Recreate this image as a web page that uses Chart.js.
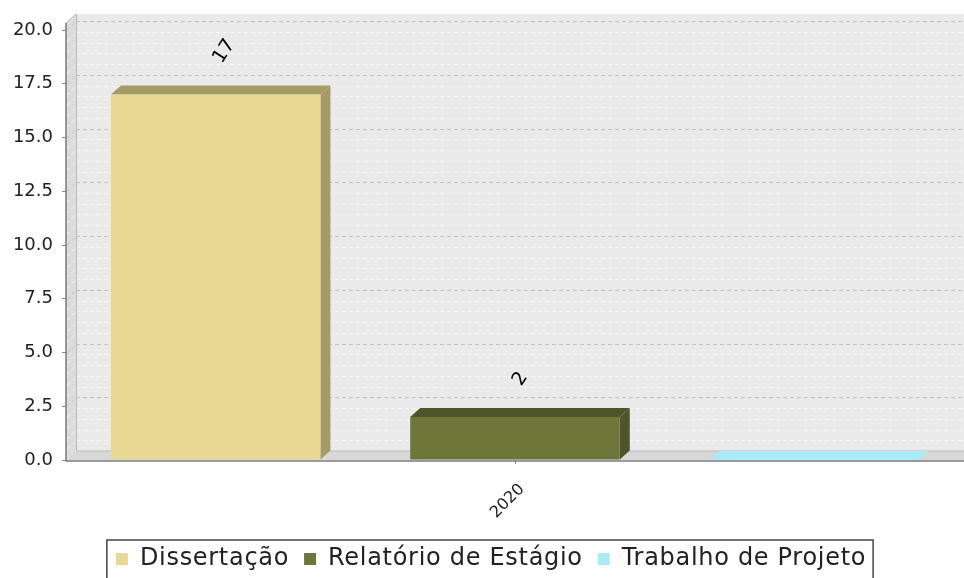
<!DOCTYPE html>
<html>
<head>
<meta charset="utf-8">
<script src="https://cdn.jsdelivr.net/npm/chart.js@4.4.1/dist/chart.umd.min.js"></script>
<style>
html,body{margin:0;padding:0;background:#fff}
#wrap{width:964px;height:578px;position:relative}
</style>
</head>
<body>
<div id="wrap"><canvas id="chart"></canvas></div>
<script>
// data
const categories = ['2020'];
const seriesNames = ['Dissertação', 'Relatório de Estágio', 'Trabalho de Projeto'];
const dissertacao = [17];
const relatorio = [2];
const trabalho = [0];
const yTicks = [0, 2.5, 5, 7.5, 10, 12.5, 15, 17.5, 20];

const seriesValues = [dissertacao, relatorio, trabalho];
const frontColors = ['#E8D893', '#6E763A', '#AAEBFA'];
const darkColors = ['#A69A67', '#4F552A', '#AAEBFA'];
const DX = 10, DY = 9; // 3d depth
const LEGEND_SPACING = '0.7px';

function poly(ctx, pts){
  ctx.beginPath();
  ctx.moveTo(pts[0][0], pts[0][1]);
  for (let i=1;i<pts.length;i++) ctx.lineTo(pts[i][0], pts[i][1]);
  ctx.closePath();
}

const threeD = {
  id: 'threeD',
  // legend text is a bit wider in the original, spread letters only while legend is measured / drawn
  beforeLayout(chart){ chart.ctx.letterSpacing = LEGEND_SPACING; },
  afterLayout(chart){
    chart.ctx.letterSpacing = '0px';
    // original legend sits a little right of centre
    if (chart.legend){ chart.legend.left += 9; chart.legend.right += 9; }
  },
  beforeDraw(chart){ chart.ctx.letterSpacing = LEGEND_SPACING; },
  beforeDatasetsDraw(chart){
    const {ctx, chartArea:a, scales:{y}} = chart;
    ctx.letterSpacing = '0px';
    const top = a.top - 7, bot = a.bottom;
    ctx.save();
    // walls + floor
    ctx.fillStyle = '#DCDCDC';
    poly(ctx, [[a.left,bot],[a.left,top],[a.left+DX,top-DY],[a.left+DX,bot-DY]]); ctx.fill();
    ctx.fillStyle = '#EAEAEA';
    ctx.fillRect(a.left+DX, top-DY, a.right-a.left, bot-top);
    ctx.fillStyle = '#D8D8D8';
    poly(ctx, [[a.left,bot],[a.left+DX,bot-DY],[a.right+DX,bot-DY],[a.right,bot]]); ctx.fill();

    // grid on back wall, minor every 0.5
    const step = yTicks[1]-yTicks[0];
    ctx.lineWidth = 1;
    ctx.setLineDash([4,3]);
    for (let k=0; k<=yTicks.length*5; k++){
      const v = k*step/5;
      if (v > yTicks[yTicks.length-1]) break;
      if (v === 0) continue;
      const yy = Math.round(y.getPixelForValue(v) - DY) + 0.5;
      ctx.strokeStyle = (k%5===0) ? '#C2C2C2' : '#F6F6F6';
      ctx.beginPath(); ctx.moveTo(a.left+DX, yy); ctx.lineTo(a.right+DX, yy); ctx.stroke();
      ctx.beginPath(); ctx.moveTo(a.left+1, yy+DY); ctx.lineTo(a.left+DX, yy); ctx.stroke();
    }
    ctx.setLineDash([]);
    ctx.strokeStyle = '#BBBBBB';
    ctx.beginPath();
    ctx.moveTo(a.left+DX+0.5, top-DY); ctx.lineTo(a.left+DX+0.5, bot-DY);
    ctx.lineTo(a.right+DX, bot-DY);
    ctx.moveTo(a.left, top); ctx.lineTo(a.left+DX, top-DY);
    ctx.stroke();

    // front axis lines
    ctx.strokeStyle = '#7A7A7A';
    ctx.lineWidth = 1.5;
    ctx.beginPath();
    ctx.moveTo(a.left, top); ctx.lineTo(a.left, bot+1);
    ctx.lineTo(a.right, bot+1);
    ctx.stroke();

    // bar tops and sides
    chart.data.datasets.forEach((ds, i) => {
      chart.getDatasetMeta(i).data.forEach((bar, j) => {
        const p = bar.getProps(['x','y','base','width'], true);
        const x0 = p.x - p.width/2, x1 = p.x + p.width/2;
        const val = seriesValues[i][j];
        ctx.fillStyle = darkColors[i];
        poly(ctx, [[x1,p.y],[x1+DX,p.y-DY],[x1+DX,p.base-DY],[x1,p.base]]); ctx.fill();
        ctx.fillStyle = val > 0 ? darkColors[i] : frontColors[i];
        poly(ctx, [[x0,p.y],[x0+DX,p.y-DY],[x1+DX,p.y-DY],[x1,p.y]]); ctx.fill();
      });
    });
    ctx.restore();
  },
  afterDatasetsDraw(chart){
    const {ctx} = chart;
    ctx.save();
    ctx.font = '19px "DejaVu Sans"';
    ctx.fillStyle = '#000';
    ctx.textAlign = 'left';
    ctx.textBaseline = 'middle';
    const ang = -57*Math.PI/180;
    chart.data.datasets.forEach((ds, i) => {
      chart.getDatasetMeta(i).data.forEach((bar, j) => {
        const val = seriesValues[i][j];
        if (!(val > 0)) return;
        const p = bar.getProps(['x','y'], true);
        ctx.save();
        ctx.translate(p.x + DX/2 - 3, p.y - DY - 24);
        ctx.rotate(ang);
        ctx.fillText(String(val), 0, 0);
        ctx.restore();
      });
    });
    ctx.restore();
  },
  afterDraw(chart){
    const lg = chart.legend;
    if (!lg || !lg.legendHitBoxes.length) return;
    const hb = lg.legendHitBoxes;
    const l = hb[0].left - 9, r = hb[hb.length-1].left + hb[hb.length-1].width + 7;
    const ctx = chart.ctx;
    ctx.save();
    ctx.strokeStyle = '#444';
    ctx.lineWidth = 1.5;
    ctx.strokeRect(l, lg.top + 8, r - l, 100);
    ctx.restore();
  }
};

new Chart(document.getElementById('chart'), {
  type: 'bar',
  data: {
    labels: categories,
    datasets: seriesNames.map((name, i) => ({
      label: name,
      data: seriesValues[i],
      backgroundColor: frontColors[i],
      borderWidth: 0
    }))
  },
  options: {
    responsive: true,
    maintainAspectRatio: false,
    animation: false,
    categoryPercentage: 1.0,
    barPercentage: 0.7,
    layout: { padding: { top: 30, left: 0, right: 0, bottom: -3 } },
    plugins: {
      legend: {
        position: 'bottom',
        labels: { font: { family: 'DejaVu Sans', size: 24 }, color: '#222', boxWidth: 12, boxHeight: 12, padding: 15 }
      },
      tooltip: { enabled: false }
    },
    scales: {
      x: {
        grid: { drawOnChartArea: false, offset: false, tickLength: 4, color: '#888' },
        border: { display: false },
        ticks: { z: 1, font: { family: 'DejaVu Sans', size: 16 }, color: '#222', minRotation: 45, maxRotation: 45, padding: 16, labelOffset: 7 },
        afterFit(s){ s.height = 72; }
      },
      y: {
        min: yTicks[0],
        max: yTicks[yTicks.length-1],
        grid: { drawOnChartArea: false, tickLength: 4, color: '#888' },
        border: { display: false },
        ticks: { z: 1, stepSize: yTicks[1]-yTicks[0], font: { family: 'DejaVu Sans', size: 18 }, color: '#222', padding: 9,
                 callback: v => Number(v).toFixed(1) },
        afterFit(s){ s.width = 66; }
      }
    }
  },
  plugins: [threeD]
});
</script>
</body>
</html>
